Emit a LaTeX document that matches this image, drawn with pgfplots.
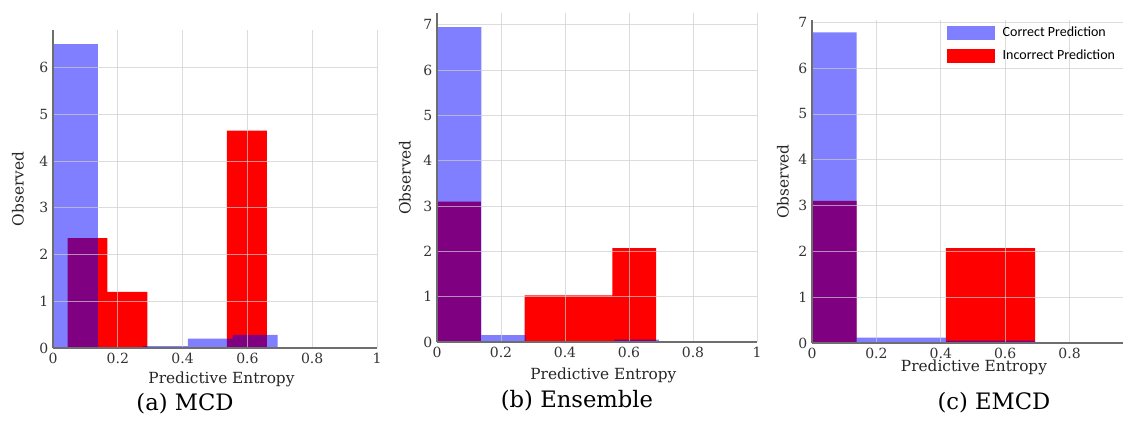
\documentclass[border=0pt]{standalone}
\usepackage{fontspec}
\setmainfont{DejaVu Serif}
\newfontfamily\carlito{Carlito}
\usepackage{pgfplots}
\pgfplotsset{compat=1.18}
\definecolor{gridc}{RGB}{205,205,205}
\definecolor{axc}{RGB}{110,110,110}

\pgfplotsset{
  histo/.style={
    scale only axis, xmin=0, xmax=1, ymin=0,
    axis x line*=bottom, axis y line*=left,
    axis line style={axc, -, line width=0.8pt},
    axis on top,
    grid=major, grid style={gridc, line width=0.6pt, draw opacity=0.7},
    major tick length=0pt,
    xtick={0,0.2,0.4,0.6,0.8,1},
    ticklabel style={font=\fontsize{10.5}{12}\selectfont, text=black!80},
    /pgf/number format/assume math mode=true,
    label style={font=\fontsize{11.5}{13}\selectfont, text=black!85},
    xlabel={Predictive Entropy}, ylabel={Observed},
    legend image code/.code={\fill[##1] (0pt,-5pt) rectangle (36pt,5pt);},
  },
  wrong/.style={const plot, fill=red, draw=none},
  right/.style={const plot, fill=blue, fill opacity=0.5, draw=none},
}

\begin{document}
\begin{tikzpicture}[x=0.75pt, y=0.75pt]

% (a) MCD
\begin{axis}[histo, at={(39.75pt,54.75pt)}, anchor=south west,
  width=243pt, height=238.5pt, ymax=6.8, ytick={0,1,...,6},
  xlabel style={at={(axis description cs:0.52,-0.1)}, anchor=center},
  ylabel style={at={(axis description cs:-0.108,0.5)}, anchor=center}]
\addplot[wrong] coordinates {(0.045,2.35) (0.168,1.2) (0.291,0) (0.414,0) (0.537,4.65) (0.66,4.65)} \closedcycle;
\addplot[right] coordinates {(0,6.5) (0.1386,0) (0.2773,0.04) (0.4159,0.2) (0.5545,0.28) (0.6931,0.28)} \closedcycle;
\end{axis}

% (b) Ensemble
\begin{axis}[histo, at={(327.75pt,59.25pt)}, anchor=south west,
  width=240pt, height=246.75pt, ymax=7.26, ytick={0,1,...,7},
  xlabel style={at={(axis description cs:0.52,-0.1)}, anchor=center},
  ylabel style={at={(axis description cs:-0.1,0.5)}, anchor=center}]
\addplot[wrong] coordinates {(0,3.1) (0.137,0) (0.274,1.03) (0.411,1.03) (0.548,2.07) (0.685,2.07)} \closedcycle;
\addplot[right] coordinates {(0,6.95) (0.1386,0.15) (0.2773,0) (0.4159,0) (0.5545,0.05) (0.6931,0.05)} \closedcycle;
\end{axis}

% (c) EMCD
\begin{axis}[histo, at={(609pt,58.5pt)}, anchor=south west,
  width=241.5pt, height=242.25pt, ymax=7.05, ytick={0,1,...,7},
  xlabel style={at={(axis description cs:0.503,-0.077)}, anchor=center},
  ylabel style={at={(axis description cs:-0.09,0.5)}, anchor=center},
  reverse legend,
  legend style={at={(axis description cs:0.405,0.995)}, anchor=north west,
    draw=none, fill=none, font=\carlito\fontsize{10.5}{12}\selectfont,
    row sep=4.5pt, cells={anchor=west},
    /tikz/every odd column/.append style={column sep=4pt}}]
\addplot[wrong] coordinates {(0,3.1) (0.1386,0) (0.2773,0) (0.4159,2.07) (0.5545,2.07) (0.6931,2.07)} \closedcycle;
\addlegendentry{Incorrect Prediction}
\addplot[right] coordinates {(0,6.78) (0.1386,0.12) (0.2773,0.12) (0.4159,0.05) (0.5545,0.05) (0.6931,0.05)} \closedcycle;
\addlegendentry{Correct Prediction}
\end{axis}

\node[font=\fontsize{17}{20}\selectfont] at (185,17) {(a) MCD};
\node[font=\fontsize{17}{20}\selectfont] at (577,20) {(b) Ensemble};
\node[font=\fontsize{17}{20}\selectfont] at (994,18) {(c) EMCD};

\pgfresetboundingbox
\useasboundingbox (0,0) rectangle (1123,421);
\end{tikzpicture}
\end{document}
